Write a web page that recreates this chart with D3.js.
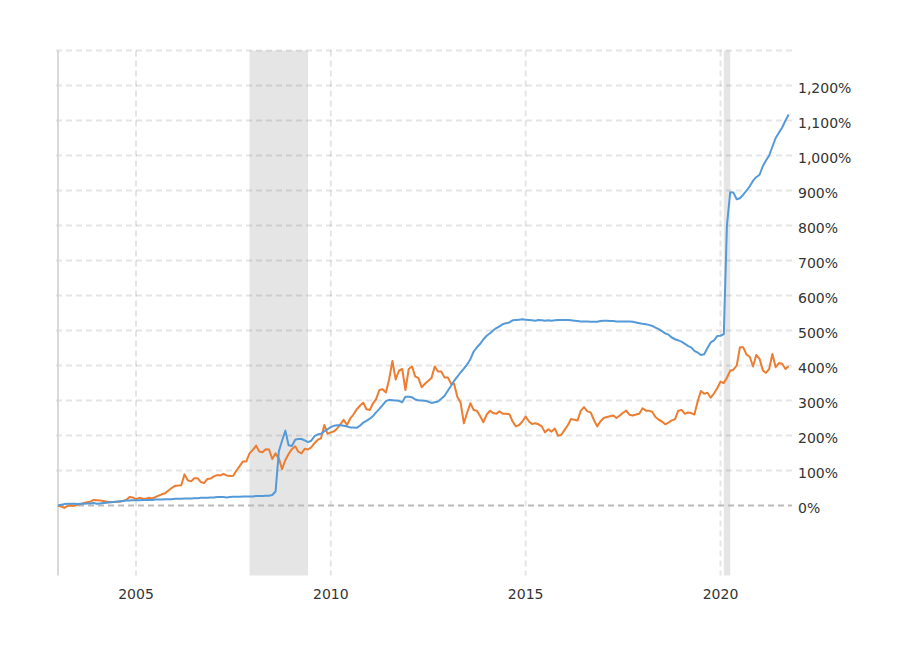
<!DOCTYPE html>
<html lang="en">
<head>
  <meta charset="UTF-8">
  <title>Chart</title>
  <style>
    body { margin: 0; background: #fff; }
    text { font-family: "DejaVu Sans", Verdana, sans-serif; fill: #333; }
  </style>
</head>
<body>
  <svg></svg>
  <script src="https://cdn.jsdelivr.net/npm/d3@7"></script>
  <script>
    // monthly series, first point = Jan 2003 (percent change since start)
    var startYear = 2003;
    var blueValues = [
      0, 2, 4, 5, 5, 5, 4, 5, 5, 6, 6, 7,
      5, 6, 7, 8, 9, 10, 11, 12, 13, 14, 14, 15,
      15, 15, 16, 16, 16, 16, 17, 17, 17, 18, 18, 18,
      19, 19, 19, 20, 20, 20, 21, 21, 22, 22, 22, 23,
      23, 24, 24, 24, 23, 24, 25, 25, 25, 26, 26, 26,
      26, 27, 27, 27, 28, 28, 30, 40, 155, 185, 214, 172,
      170, 188, 190, 190, 186, 181, 185, 198, 203, 205, 212, 218,
      224, 228, 229, 229, 228, 226, 223, 223, 222, 228, 237, 242,
      248, 256, 266, 276, 287, 298, 302, 301, 300, 299, 295, 311,
      311, 309, 303, 301, 300, 299, 297, 293, 295, 297, 305, 313,
      328, 342, 356, 368, 380, 391, 403, 418, 440, 452, 462, 475,
      485, 492, 500, 507, 512, 518, 521, 523, 529, 530, 531, 532,
      531, 530, 529, 528, 530, 529, 528, 529, 528, 529, 530, 530,
      530, 530, 529, 528, 527, 526, 526, 526, 525, 525, 525, 527,
      528, 528, 527, 527, 526, 526, 526, 526, 526, 525, 523, 521,
      519, 518, 516, 513, 508, 504, 498, 492, 488, 480, 475, 472,
      468, 462, 456, 452, 442, 437, 430, 432, 450, 466, 472, 484,
      485, 490, 800, 895, 894, 875, 878, 888, 900, 912, 928, 938,
      945, 970, 985, 1000, 1025, 1050, 1065, 1080, 1100, 1117
    ];
    var orangeValues = [
      0, -3, -7, -1, 0, -1, 2, 4, 7, 9, 11, 16,
      15, 14, 13, 11, 9, 10, 11, 11, 13, 16, 24, 23,
      18, 22, 20, 19, 22, 20, 24, 28, 32, 35, 43, 50,
      56, 57, 58, 89, 72, 69, 78, 78, 67, 64, 76, 77,
      83, 87, 86, 90, 86, 84, 85, 100, 113, 126, 126, 149,
      159, 171, 154, 152, 161, 160, 133, 149, 134, 104, 130, 147,
      161, 169, 154, 149, 162, 160, 166, 178, 188, 192, 230, 205,
      209, 212, 220, 232, 245, 230, 248, 260, 275, 285, 294, 275,
      273, 292, 304, 330, 332, 323, 360, 413, 360, 385, 390, 330,
      390, 397, 369, 364, 338, 348, 356, 364, 397, 383, 383, 366,
      366, 348, 348, 310, 294, 235, 265, 292, 273, 271, 255, 238,
      260, 271, 264, 262, 269, 262, 262, 261, 240, 226, 230, 240,
      254, 240, 233, 235, 232, 226, 209, 218, 211, 220, 199, 202,
      216, 230, 247, 245, 243, 271, 281, 269, 266, 245, 226, 240,
      250, 253, 255, 257, 250, 257, 265, 271, 259, 257, 260, 262,
      278, 271, 271, 268, 253, 245, 240, 232, 237, 243, 247, 271,
      273, 262, 266, 264, 260, 297, 327, 319, 322, 308, 320, 335,
      354, 350, 365, 385, 388, 400, 452, 452, 431, 425, 397, 430,
      419, 386, 379, 390, 433, 395, 407, 405, 390, 398
    ];
    var recessions = [["2007-12-01", "2009-06-01"], ["2020-02-01", "2020-04-01"]];
    var yearTicks = [2005, 2010, 2015, 2020];
    var yTicks = [0, 100, 200, 300, 400, 500, 600, 700, 800, 900, 1000, 1100, 1200];
    var gridTicks = yTicks.concat([1300]);

    var width = 917, height = 657;
    var plotLeft = 58, plotRight = 792, plotTop = 50.5, plotBottom = 575.5;

    var svg = d3.select("svg")
      .attr("width", width)
      .attr("height", height);

    var dates = blueValues.map(function(d, i) { return new Date(startYear, i, 1); });

    var x = d3.scaleTime()
      .domain([new Date(2003, 0, 1), new Date(2021, 10, 1)])
      .range([plotLeft, plotRight]);
    var y = d3.scaleLinear()
      .domain([-200, 1300])
      .range([plotBottom, plotTop]);

    // 衰退区间阴影
    svg.append("g")
      .selectAll("rect")
      .data(recessions)
      .join("rect")
      .attr("x", function(d) { return x(new Date(d[0])); })
      .attr("y", plotTop)
      .attr("width", function(d) { return x(new Date(d[1])) - x(new Date(d[0])); })
      .attr("height", plotBottom - plotTop)
      .attr("fill", "#e5e5e5");

    // 网格线
    var grid = svg.append("g").attr("stroke-dasharray", "6,4").attr("stroke-width", 2);
    grid.selectAll("line.h")
      .data(gridTicks.filter(function(d) { return d !== 0; }))
      .join("line")
      .attr("class", "h")
      .attr("x1", plotLeft - 2)
      .attr("x2", plotRight)
      .attr("y1", function(d) { return y(d); })
      .attr("y2", function(d) { return y(d); })
      .attr("stroke", "rgba(0,0,0,0.1)");
    grid.selectAll("line.v")
      .data(yearTicks)
      .join("line")
      .attr("class", "v")
      .attr("x1", function(d) { return x(new Date(d, 0, 1)); })
      .attr("x2", function(d) { return x(new Date(d, 0, 1)); })
      .attr("y1", plotTop)
      .attr("y2", plotBottom)
      .attr("stroke", "rgba(0,0,0,0.1)");

    // 左侧轴线
    svg.append("line")
      .attr("x1", plotLeft).attr("x2", plotLeft)
      .attr("y1", plotTop).attr("y2", plotBottom)
      .attr("stroke", "#cccccc")
      .attr("stroke-width", 1.5);

    // 零线
    svg.append("line")
      .attr("x1", plotLeft).attr("x2", plotRight)
      .attr("y1", y(0)).attr("y2", y(0))
      .attr("stroke", "#bbbbbb")
      .attr("stroke-width", 2)
      .attr("stroke-dasharray", "6,4");

    // 两条折线
    var line = d3.line()
      .x(function(d, i) { return x(dates[i]); })
      .y(function(d) { return y(d); });

    svg.append("path")
      .datum(orangeValues)
      .attr("fill", "none")
      .attr("stroke", "#ed7d31")
      .attr("stroke-width", 2)
      .attr("stroke-linejoin", "round")
      .attr("d", line);

    svg.append("path")
      .datum(blueValues)
      .attr("fill", "none")
      .attr("stroke", "#5499d8")
      .attr("stroke-width", 2)
      .attr("stroke-linejoin", "round")
      .attr("d", line);

    // 坐标轴文字
    var fmt = d3.format(",");
    svg.append("g")
      .selectAll("text")
      .data(yTicks)
      .join("text")
      .attr("x", 798)
      .attr("y", function(d) { return y(d) + 7; })
      .attr("font-size", "14px")
      .text(function(d) { return fmt(d) + "%"; });

    svg.append("g")
      .selectAll("text")
      .data(yearTicks)
      .join("text")
      .attr("x", function(d) { return x(new Date(d, 0, 1)); })
      .attr("y", 599)
      .attr("text-anchor", "middle")
      .attr("font-size", "14px")
      .text(function(d) { return d; });
  </script>
</body>
</html>
